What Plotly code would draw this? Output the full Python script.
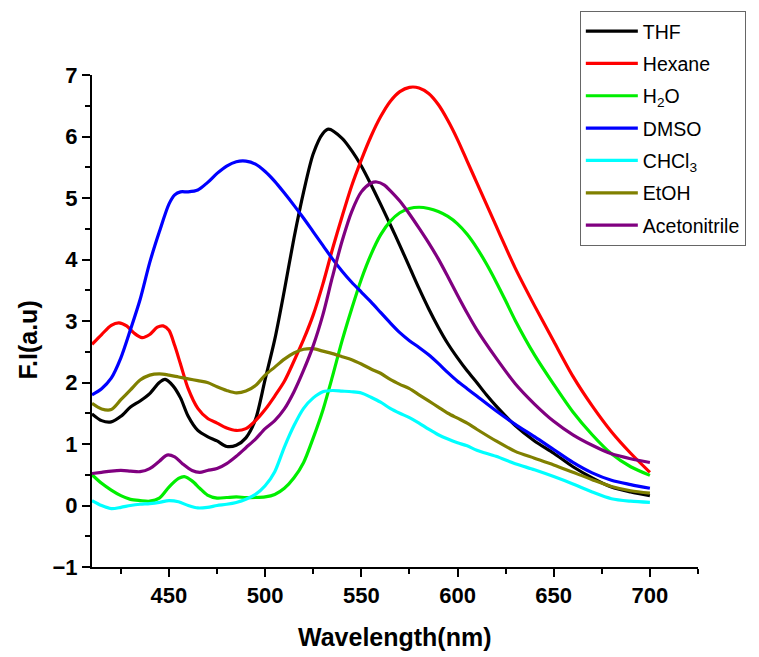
import plotly.graph_objects as go

# ---- data ----
wl_thf = [410,415,420,425,430,435,440,445,448,452,456,460,465,470,475,480,485,490,495,500,505,510,515,520,525,530,533,540,545,550,555,560,565,570,575,580,585,590,595,600,605,610,615,620,630,640,650,660,670,680,690,700]
fi_thf = [1.49,1.38,1.36,1.45,1.6,1.70,1.82,2.0,2.05,1.95,1.75,1.45,1.22,1.12,1.05,0.96,0.98,1.1,1.4,2.05,2.7,3.5,4.35,5.1,5.72,6.05,6.12,5.97,5.77,5.52,5.22,4.9,4.57,4.23,3.88,3.53,3.2,2.9,2.63,2.4,2.19,2.0,1.8,1.62,1.3,1.05,0.85,0.63,0.45,0.3,0.22,0.16]

wl_hex = [410,415,420,424,428,432,436,440,444,447,450,453,456,460,465,470,475,480,485,490,495,500,505,510,515,520,525,530,535,540,545,550,555,560,565,570,575,580,585,590,595,600,605,610,620,625,630,640,650,660,670,680,690,700]
fi_hex = [2.62,2.78,2.93,2.97,2.92,2.80,2.73,2.78,2.9,2.92,2.85,2.6,2.3,1.9,1.58,1.42,1.34,1.26,1.22,1.25,1.38,1.56,1.78,2.02,2.35,2.7,3.1,3.6,4.17,4.7,5.2,5.62,6.0,6.32,6.57,6.73,6.8,6.79,6.7,6.52,6.26,5.95,5.6,5.25,4.55,4.2,3.86,3.25,2.67,2.1,1.62,1.2,0.85,0.54]

wl_h2o = [410,415,420,425,430,435,440,445,450,455,458,462,466,470,475,480,485,490,495,500,505,510,515,520,525,530,535,540,545,550,555,560,565,570,575,580,585,590,595,600,605,610,615,620,625,630,640,650,660,670,680,690,700]
fi_h2o = [0.5,0.36,0.25,0.16,0.1,0.08,0.07,0.12,0.3,0.44,0.47,0.4,0.28,0.17,0.12,0.13,0.14,0.13,0.13,0.14,0.18,0.28,0.45,0.7,1.1,1.55,2.1,2.68,3.2,3.68,4.08,4.4,4.62,4.76,4.83,4.85,4.83,4.78,4.7,4.58,4.41,4.19,3.93,3.64,3.33,3.01,2.45,1.97,1.52,1.15,0.84,0.63,0.49]

wl_dmso = [410,415,420,425,430,435,440,445,450,453,456,460,465,470,475,480,485,490,495,500,505,510,515,520,525,530,535,540,545,550,555,560,565,570,575,580,585,590,595,600,605,610,620,630,640,650,660,670,680,690,700]
fi_dmso = [1.8,1.9,2.07,2.4,2.86,3.35,3.95,4.45,4.9,5.05,5.1,5.1,5.13,5.25,5.4,5.52,5.59,5.6,5.55,5.43,5.27,5.08,4.88,4.67,4.45,4.23,4.01,3.81,3.63,3.47,3.31,3.14,2.97,2.81,2.68,2.57,2.45,2.31,2.16,2.02,1.9,1.78,1.54,1.32,1.12,0.91,0.7,0.53,0.41,0.34,0.28]

wl_chcl3 = [410,415,420,425,430,435,440,445,450,455,460,465,470,475,480,485,490,495,500,505,510,515,520,525,530,535,540,545,550,555,560,565,570,575,580,585,590,595,600,605,610,620,630,640,650,660,670,680,690,700]
fi_chcl3 = [0.08,0.0,-0.05,-0.03,0.0,0.02,0.03,0.05,0.08,0.06,0.0,-0.04,-0.03,0.0,0.02,0.05,0.1,0.18,0.32,0.55,0.95,1.3,1.58,1.75,1.85,1.87,1.86,1.85,1.83,1.76,1.68,1.58,1.5,1.43,1.34,1.24,1.15,1.08,1.02,0.97,0.9,0.8,0.68,0.58,0.47,0.35,0.22,0.11,0.07,0.05]

wl_etoh = [410,415,420,425,430,435,440,445,450,455,460,465,470,475,480,485,490,495,500,505,510,515,520,525,530,535,540,545,550,555,560,565,570,575,580,585,590,595,600,605,610,620,630,640,650,660,670,680,690,700]
fi_etoh = [1.66,1.57,1.56,1.72,1.88,2.04,2.12,2.14,2.12,2.09,2.06,2.03,2.0,1.93,1.87,1.83,1.86,1.95,2.12,2.25,2.38,2.48,2.54,2.55,2.51,2.47,2.42,2.37,2.3,2.22,2.15,2.05,1.97,1.9,1.8,1.7,1.6,1.5,1.42,1.34,1.24,1.05,0.88,0.77,0.66,0.54,0.42,0.31,0.24,0.2]

wl_acn = [410,415,420,425,430,435,440,445,449,453,457,462,466,470,475,480,485,490,495,500,505,510,515,520,525,530,535,540,545,550,555,558,562,565,570,575,580,585,590,595,600,605,610,620,630,640,650,660,670,680,690,700]
fi_acn = [0.52,0.54,0.56,0.57,0.56,0.55,0.6,0.72,0.82,0.79,0.68,0.57,0.54,0.57,0.6,0.68,0.8,0.94,1.08,1.25,1.38,1.57,1.85,2.2,2.6,3.1,3.72,4.3,4.78,5.1,5.24,5.26,5.21,5.12,4.95,4.74,4.51,4.27,4.01,3.72,3.42,3.13,2.86,2.4,1.98,1.65,1.37,1.15,0.98,0.84,0.76,0.7]

series_names = ["THF", "Hexane", "H<sub>2</sub>O", "DMSO", "CHCl<sub>3</sub>", "EtOH", "Acetonitrile"]
series_x = [wl_thf, wl_hex, wl_h2o, wl_dmso, wl_chcl3, wl_etoh, wl_acn]
series_y = [fi_thf, fi_hex, fi_h2o, fi_dmso, fi_chcl3, fi_etoh, fi_acn]
series_colors = ["#000000", "#FF0000", "#00EE00", "#0000FF", "#00FFFF", "#808000", "#800080"]

x_ticks = [450, 500, 550, 600, 650, 700]
y_ticks = [-1, 0, 1, 2, 3, 4, 5, 6, 7]

fig = go.Figure()
for i, (n, xs, ys, c) in enumerate(zip(series_names, series_x, series_y, series_colors)):
    fig.add_trace(go.Scatter(x=xs, y=ys, name=n, mode="lines", legendgroup=f"g{i}",
                             line=dict(color=c, width=3.2, shape="spline", smoothing=0.8)))

tickfont = dict(family="Liberation Sans, Arial", size=22, color="#000000", weight="bold")

fig.update_layout(
    width=759, height=657,
    margin=dict(l=92, r=61, t=74, b=90),
    paper_bgcolor="white", plot_bgcolor="white",
    showlegend=True,
    legend=dict(x=0.805, y=1.128, xanchor="left", yanchor="top",
                bgcolor="white", bordercolor="#666666", borderwidth=1,
                font=dict(family="Liberation Sans, Arial", size=19.5, color="#000000"),
                tracegroupgap=4, itemwidth=52),
    xaxis=dict(range=[410, 725], tickvals=x_ticks, ticks="outside", ticklen=8, tickwidth=2,
               tickcolor="black", showline=True, linecolor="black", linewidth=2,
               showgrid=False, zeroline=False, tickfont=tickfont,
               minor=dict(tick0=400, dtick=25, ticks="outside", ticklen=5, tickwidth=2, tickcolor="black", showgrid=False)),
    yaxis=dict(range=[-1, 7], tickvals=y_ticks, ticks="outside", ticklen=8, tickwidth=2,
               tickcolor="black", showline=True, linecolor="black", linewidth=2,
               showgrid=False, zeroline=False, tickfont=tickfont,
               minor=dict(tick0=0.5, dtick=0.5, ticks="outside", ticklen=5, tickwidth=2, tickcolor="black", showgrid=False)),
    annotations=[
        dict(text="Wavelength(nm)", xref="paper", yref="paper", x=0.5, y=-0.142,
             xanchor="center", yanchor="middle", showarrow=False,
             font=dict(family="Liberation Sans, Arial", size=25, color="black", weight="bold")),
        dict(text="F.I(a.u)", xref="paper", yref="paper", x=-0.106, y=0.462,
             xanchor="center", yanchor="middle", showarrow=False, textangle=-90,
             font=dict(family="Liberation Sans, Arial", size=25, color="black", weight="bold")),
    ],
)

fig.write_html("out.html")
